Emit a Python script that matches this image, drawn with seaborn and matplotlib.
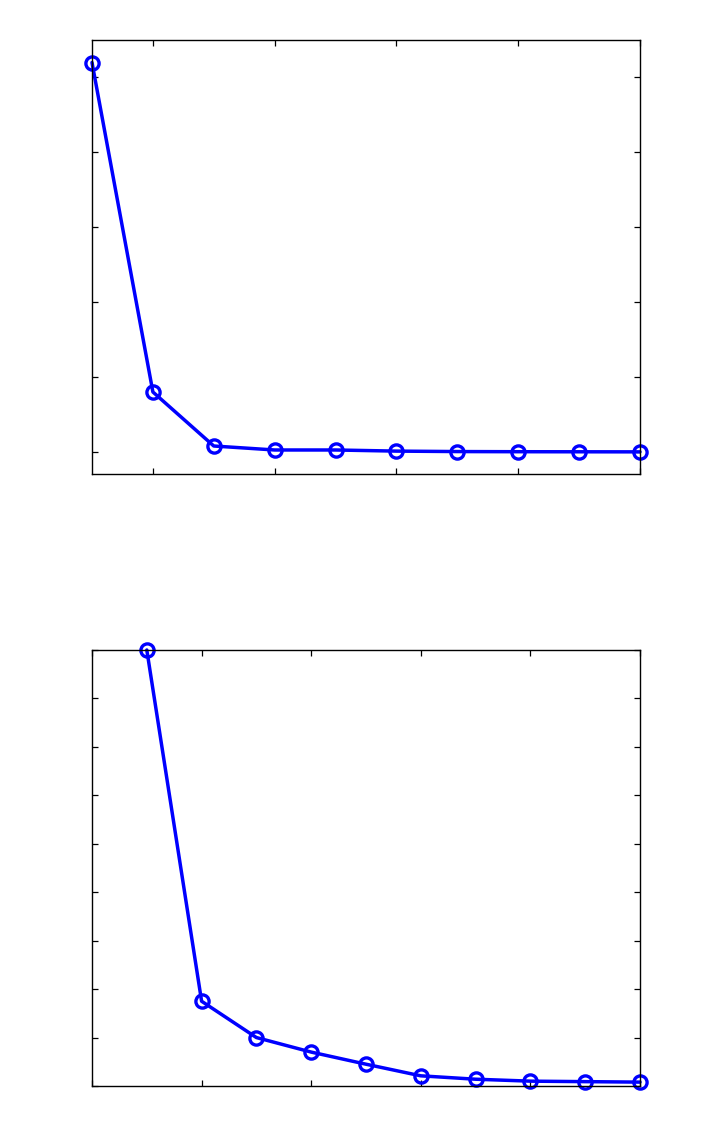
import numpy as np
import pandas as pd
import matplotlib
matplotlib.use("Agg")
import matplotlib.pyplot as plt
import seaborn as sns

sns.set_style("white")

# Top panel data
top_x = [1, 2, 3, 4, 5, 6, 7, 8, 9, 10]
top_y = [5.19, 0.80, 0.08, 0.027, 0.027, 0.012, 0.006, 0.004, 0.003, 0.002]
top_xticks = [2, 4, 6, 8, 10]
top_yticks = [0, 1, 2, 3, 4, 5]

# Bottom panel data
bot_x = [1, 2, 3, 4, 5, 6, 7, 8, 9, 10]
bot_y = [9.0, 1.75, 1.0, 0.70, 0.45, 0.21, 0.14, 0.10, 0.09, 0.08]
bot_xticks = [0, 2, 4, 6, 8, 10]
bot_yticks = [0, 1, 2, 3, 4, 5, 6, 7, 8, 9]

fig = plt.figure(figsize=(7.07, 11.45), dpi=100)
ax1 = fig.add_axes([92/707, 1-474/1145, (640-92)/707, (474-40)/1145])
ax2 = fig.add_axes([92/707, 1-1086/1145, (640-92)/707, (1086-650)/1145])

def style(ax):
    for s in ax.spines.values():
        s.set_visible(True)
        s.set_color("black")
        s.set_linewidth(1.0)
    ax.tick_params(direction="in", length=4, width=0.9, top=True, right=True,
                   bottom=True, left=True, labelbottom=False, labelleft=False,
                   colors="black")
    ax.set_xlabel("")
    ax.set_ylabel("")

df1 = pd.DataFrame({"x": top_x, "y": top_y})
sns.lineplot(data=df1, x="x", y="y", ax=ax1, color="#0000ff", linewidth=2.5,
             marker="o", markersize=9.5, markerfacecolor="none",
             markeredgecolor="#0000ff", markeredgewidth=2.4, clip_on=False)
ax1.set_xlim(1, 10)
ax1.set_ylim(-0.293, 5.49)
ax1.set_xticks(top_xticks)
ax1.set_yticks(top_yticks)
style(ax1)

df2 = pd.DataFrame({"x": bot_x, "y": bot_y})
sns.lineplot(data=df2, x="x", y="y", ax=ax2, color="#0000ff", linewidth=2.5,
             marker="o", markersize=9.5, markerfacecolor="none",
             markeredgecolor="#0000ff", markeredgewidth=2.4, clip_on=False)
ax2.set_xlim(0, 10)
ax2.set_ylim(0, 9)
ax2.set_xticks(bot_xticks)
ax2.set_yticks(bot_yticks)
style(ax2)

fig.savefig("out.png", dpi=100)
